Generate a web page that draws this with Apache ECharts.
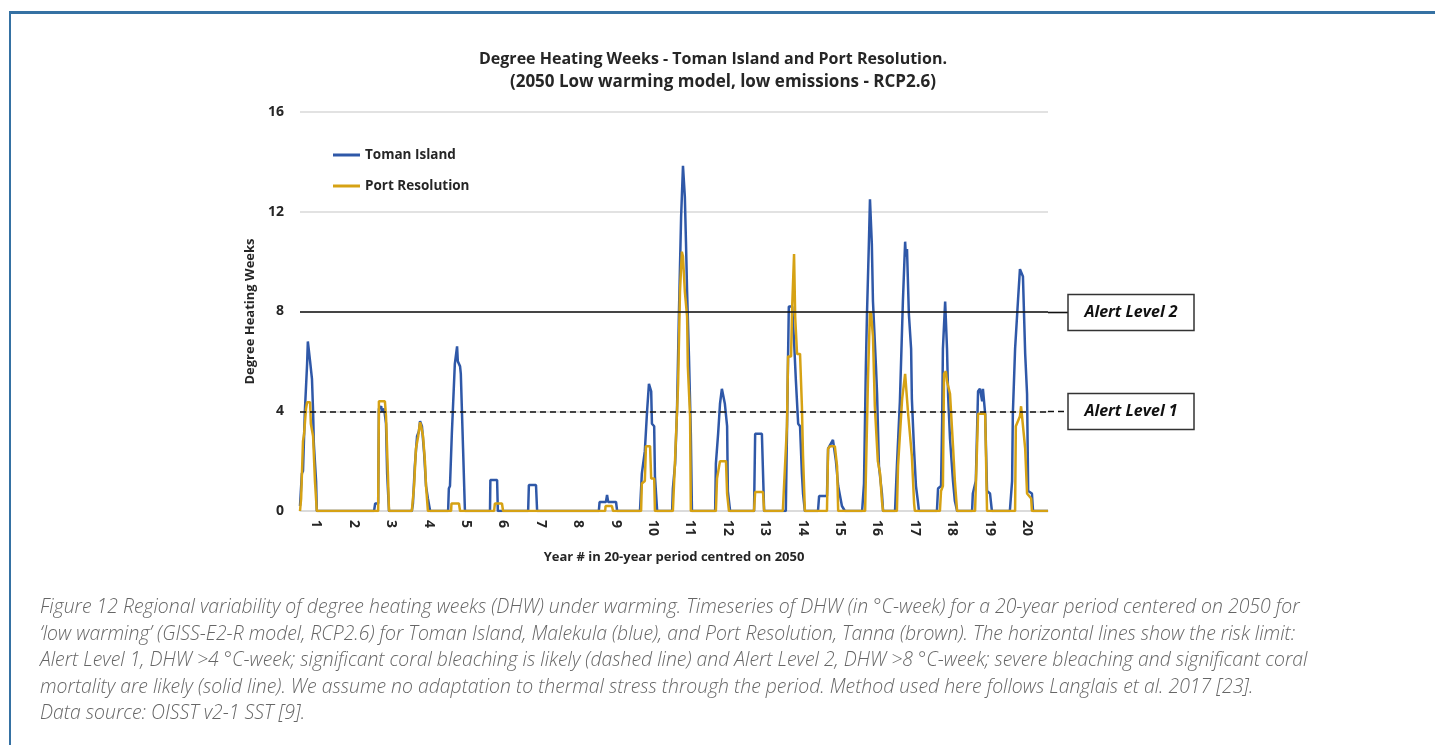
<!DOCTYPE html>
<html>
<head>
<meta charset="utf-8">
<script src="https://cdn.jsdelivr.net/npm/echarts@6/dist/echarts.min.js"></script>
<style>
  html, body { margin: 0; padding: 0; background: #fff; width: 1435px; height: 745px; overflow: hidden; }
  #frame { position: absolute; left: 9px; top: 11px; width: 1500px; height: 800px;
           border-top: 3px solid #3571a3; border-left: 2px solid #3571a3; }
  #chart { position: absolute; left: 0; top: 0; width: 1435px; height: 745px; }
  #caption { position: absolute; left: 40px; top: 593px; font-family: "Open Sans", sans-serif;
             font-style: italic; font-weight: 300; font-size: 19.4px; line-height: 26.5px;
             color: #666; white-space: nowrap; }
</style>
</head>
<body>
<div id="frame"></div>
<div id="chart"></div>
<div id="caption">
Figure 12 Regional variability of degree heating weeks (DHW) under warming. Timeseries of DHW (in °C-week) for a 20-year period centered on 2050 for<br>
‘low warming’ (GISS-E2-R model, RCP2.6) for Toman Island, Malekula (blue), and Port Resolution, Tanna (brown). The horizontal lines show the risk limit:<br>
Alert Level 1, DHW &gt;4 °C-week; significant coral bleaching is likely (dashed line) and Alert Level 2, DHW &gt;8 °C-week; severe bleaching and significant coral<br>
mortality are likely (solid line). We assume no adaptation to thermal stress through the period. Method used here follows Langlais et al. 2017 [23].<br>
Data source: OISST v2-1 SST [9].
</div>
<script>
// Year labels along the time axis and where each one sits (years from the start of the record)
const yearLabels = ['1','2','3','4','5','6','7','8','9','10','11','12','13','14','15','16','17','18','19','20'];
const yearLabelPos = [0.44,1.44,2.44,3.44,4.44,5.44,6.44,7.44,8.44,9.44,10.44,11.44,12.44,13.44,14.44,15.44,16.44,17.44,18.44,19.44];

// DHW axis ticks (°C-week)
const dhwTicks = [0, 4, 8, 12, 16];

// Bleaching alert thresholds
const alertLevels = [
  { name: 'Alert Level 2', value: 8, dashed: false },
  { name: 'Alert Level 1', value: 4, dashed: true }
];

// Toman Island (Malekula): [years from start, DHW]
const tomanIsland = [
  [0.00,0.2],[0.05,1.5],[0.08,1.6],[0.13,4.0],[0.19,5.9],[0.21,6.8],[0.27,6.0],[0.32,5.3],[0.35,4.0],[0.37,2.7],[0.43,1.2],[0.45,0],
  [1.98,0],[2.01,0.3],[2.09,0.3],[2.11,4.1],[2.17,4.2],[2.19,4.0],[2.25,4.1],[2.30,3.5],[2.33,1.5],[2.38,0],
  [2.99,0],[3.02,0.3],[3.07,1.8],[3.13,3.0],[3.18,3.2],[3.21,3.6],[3.26,3.4],[3.32,2.3],[3.37,1.0],[3.42,0.5],[3.48,0],
  [3.96,0],[3.98,0.9],[4.01,1.0],[4.06,3.1],[4.14,5.9],[4.20,6.6],[4.22,6.0],[4.28,5.8],[4.30,5.5],[4.36,2.5],[4.41,0],
  [5.08,0],[5.09,1.24],[5.27,1.24],[5.29,0],
  [6.10,0],[6.12,1.04],[6.31,1.04],[6.34,0],
  [7.99,0],[8.01,0.36],[8.18,0.36],[8.21,0.64],[8.24,0.36],[8.45,0.36],[8.48,0],
  [9.09,0],[9.14,1.5],[9.22,2.4],[9.28,4.0],[9.33,5.1],[9.39,4.8],[9.41,3.5],[9.47,3.4],[9.49,1.4],[9.55,0],
  [9.95,0],[9.97,0.9],[10.03,1.9],[10.08,4.0],[10.13,7.8],[10.19,11.8],[10.21,12.6],[10.24,13.84],[10.29,12.6],[10.32,10.8],[10.35,8.8],[10.40,6.2],[10.45,3.1],[10.48,0],
  [11.10,0],[11.12,1.9],[11.18,3.1],[11.23,4.3],[11.28,4.9],[11.36,4.3],[11.42,3.4],[11.44,0.8],[11.50,0],
  [12.14,0],[12.17,3.1],[12.35,3.1],[12.41,0],
  [12.99,0],[13.05,6.2],[13.07,8.2],[13.16,8.2],[13.21,6.8],[13.26,5.2],[13.32,3.5],[13.37,3.4],[13.42,1.5],[13.45,0.7],[13.50,0],
  [13.85,0],[13.88,0.6],[14.09,0.6],[14.12,2.5],[14.25,2.85],[14.33,2.0],[14.39,1.0],[14.49,0.2],[14.57,0],
  [15.03,0],[15.08,1.1],[15.13,5.8],[15.16,7.9],[15.21,10.7],[15.24,12.5],[15.29,10.7],[15.32,8.4],[15.37,8.4],[15.40,5.8],[15.43,4.7],[15.48,1.8],[15.56,0.7],[15.59,0],
  [15.91,0],[15.96,1.8],[16.04,4.4],[16.12,8.4],[16.18,10.8],[16.20,10.2],[16.23,10.5],[16.28,7.9],[16.34,6.5],[16.36,4.5],[16.42,2.4],[16.47,1.0],[16.52,0.4],[16.55,0],
  [17.03,0],[17.06,0.9],[17.14,1.0],[17.17,3.6],[17.19,6.5],[17.25,8.4],[17.30,6.5],[17.33,4.6],[17.38,2.9],[17.46,1.2],[17.51,0.4],[17.57,0],
  [17.97,0],[17.99,0.7],[18.07,1.2],[18.13,4.8],[18.18,4.9],[18.24,4.4],[18.26,4.9],[18.32,3.9],[18.37,0.8],[18.45,0.7],[18.50,0],
  [18.98,0],[19.04,1.2],[19.06,3.9],[19.12,6.5],[19.20,8.5],[19.25,9.7],[19.33,9.4],[19.39,6.3],[19.44,4.7],[19.47,0.8],[19.57,0.7],[19.60,0],
  [20.00,0]
];

// Port Resolution (Tanna): [years from start, DHW]
const portResolution = [
  [0.00,0],[0.03,0.5],[0.08,2.8],[0.11,3.1],[0.16,4.1],[0.19,4.36],[0.27,4.36],[0.29,3.5],[0.35,3.0],[0.40,1.2],[0.43,1.2],[0.45,0],
  [2.09,0],[2.11,4.4],[2.27,4.4],[2.30,3.8],[2.35,1.5],[2.38,0],
  [2.99,0],[3.05,1.0],[3.10,2.5],[3.16,3.0],[3.21,3.56],[3.24,3.4],[3.29,3.0],[3.34,2.0],[3.37,1.0],[3.42,0],
  [4.04,0],[4.05,0.3],[4.25,0.3],[4.28,0],
  [5.19,0],[5.21,0.3],[5.40,0.3],[5.43,0],
  [8.16,0],[8.17,0.2],[8.34,0.2],[8.37,0],
  [9.12,0],[9.14,1.1],[9.22,1.2],[9.25,2.6],[9.36,2.6],[9.39,1.3],[9.47,1.3],[9.49,0],
  [9.97,0],[10.03,2.1],[10.11,5.1],[10.16,8.8],[10.21,10.4],[10.24,10.2],[10.29,8.8],[10.35,7.8],[10.37,5.8],[10.43,3.8],[10.45,0],
  [11.12,0],[11.15,1.3],[11.23,2.0],[11.39,2.0],[11.42,0.7],[11.47,0],
  [12.14,0],[12.17,0.76],[12.38,0.76],[12.41,0],
  [12.91,0],[13.02,3.4],[13.05,6.2],[13.13,6.2],[13.16,8.2],[13.21,10.3],[13.24,7.8],[13.29,6.3],[13.37,6.3],[13.42,4.2],[13.45,2.2],[13.50,0],
  [14.09,0],[14.12,2.5],[14.17,2.6],[14.30,2.6],[14.36,1.8],[14.39,0],
  [15.11,0],[15.19,5.5],[15.24,8.0],[15.27,7.9],[15.32,7.0],[15.37,4.2],[15.45,2.0],[15.51,1.5],[15.56,0.4],[15.59,0],
  [15.96,0],[15.99,1.8],[16.10,4.5],[16.18,5.5],[16.20,5.56],[16.26,3.9],[16.36,2.2],[16.42,0.3],[16.44,0],
  [17.11,0],[17.14,0.8],[17.19,1.0],[17.22,5.5],[17.27,5.6],[17.30,5.2],[17.38,4.7],[17.46,2.6],[17.51,1.2],[17.57,0],
  [18.05,0],[18.13,3.9],[18.32,3.9],[18.37,0],
  [19.12,0],[19.14,3.4],[19.25,3.8],[19.28,4.2],[19.33,4.2],[19.39,2.5],[19.44,0.7],[19.55,0.5],[19.57,0],
  [20.00,0]
];

const FONT = '"Open Sans", sans-serif';
const INK = '#262626';
const BLUE = '#2f58a8';
const GOLD = '#d6a214';

const chart = echarts.init(document.getElementById('chart'), null, { renderer: 'canvas' });

function labelFor(v) {
  let best = 0;
  for (let i = 1; i < yearLabelPos.length; i++) {
    if (Math.abs(yearLabelPos[i] - v) < Math.abs(yearLabelPos[best] - v)) best = i;
  }
  return yearLabels[best];
}

chart.setOption({
  animation: false,
  backgroundColor: 'transparent',
  title: [
    { text: 'Degree Heating Weeks - Toman Island and Port Resolution.', left: 708, top: 46, textAlign: 'center',
      textStyle: { fontFamily: FONT, fontWeight: 'bold', fontSize: 16, color: INK } },
    { text: '(2050 Low warming model, low emissions - RCP2.6)', left: 718, top: 69, textAlign: 'center',
      textStyle: { fontFamily: FONT, fontWeight: 'bold', fontSize: 17, color: INK } }
  ],
  legend: {
    orient: 'vertical', left: 333, top: 146, itemGap: 13, padding: 0,
    itemWidth: 27, itemHeight: 3, icon: 'rect',
    textStyle: { fontFamily: FONT, fontWeight: 'bold', fontSize: 13.5, color: INK, lineHeight: 18 },
    data: ['Toman Island', 'Port Resolution']
  },
  grid: { left: 300, right: 387, top: 112, bottom: 234 },
  xAxis: {
    type: 'value', min: 0, max: 20,
    axisLine: { show: true, lineStyle: { color: '#d9d9d9', width: 1.5 } },
    axisTick: { show: false },
    splitLine: { show: false },
    axisLabel: {
      customValues: yearLabelPos, rotate: -90, margin: 9,
      formatter: labelFor,
      fontFamily: FONT, fontWeight: 'bold', fontSize: 14, color: INK
    },
    name: 'Year # in 20-year period centred on 2050', nameLocation: 'middle', nameGap: 40,
    nameTextStyle: { fontFamily: FONT, fontWeight: 'bold', fontSize: 13, color: INK }
  },
  yAxis: {
    type: 'value', min: dhwTicks[0], max: dhwTicks[dhwTicks.length - 1], interval: dhwTicks[1] - dhwTicks[0],
    axisLine: { show: false }, axisTick: { show: false },
    splitLine: { lineStyle: { color: '#d9d9d9', width: 1.5 } },
    axisLabel: { margin: 16, fontFamily: FONT, fontWeight: 'bold', fontSize: 14, color: INK },
    name: 'Degree Heating Weeks', nameLocation: 'middle', nameRotate: 90, nameGap: 34,
    nameTextStyle: { fontFamily: FONT, fontWeight: 'bold', fontSize: 13, color: INK }
  },
  series: [
    {
      name: 'Toman Island', type: 'line', data: tomanIsland, showSymbol: false, symbol: 'none',
      lineStyle: { color: BLUE, width: 2.5 }, itemStyle: { color: BLUE }, z: 3,
      markLine: {
        silent: true, symbol: ['none', 'none'], label: { show: false },
        data: alertLevels.map(a => ({
          yAxis: a.value,
          lineStyle: { color: '#111', width: 1.6, type: a.dashed ? [6, 4] : 'solid' }
        }))
      }
    },
    {
      name: 'Port Resolution', type: 'line', data: portResolution, showSymbol: false, symbol: 'none',
      lineStyle: { color: GOLD, width: 2.5 }, itemStyle: { color: GOLD }, z: 4
    }
  ]
});

// Alert-level labels boxed to the right of the plot, joined to their threshold lines
const xRight = chart.convertToPixel({ xAxisIndex: 0 }, 20);
const boxLeft = 1068, boxW = 126, boxH = 36;
const graphics = [];
alertLevels.forEach(a => {
  const y = Math.round(chart.convertToPixel({ yAxisIndex: 0 }, a.value)) + 0.5;
  graphics.push({
    type: 'line', shape: { x1: xRight, y1: y, x2: boxLeft, y2: y },
    style: { stroke: '#111', lineWidth: 1.6, lineDash: a.dashed ? [6, 4] : null }
  });
  graphics.push({
    type: 'rect', shape: { x: boxLeft, y: y - boxH / 2, width: boxW, height: boxH },
    style: { fill: '#fff', stroke: '#333', lineWidth: 1.5 }
  });
  graphics.push({
    type: 'text', x: boxLeft + boxW / 2, y: y,
    style: { text: a.name, fontFamily: FONT, fontStyle: 'italic', fontWeight: 'bold', fontSize: 16,
             fill: '#111', align: 'center', verticalAlign: 'middle' }
  });
});
chart.setOption({ graphic: graphics });
</script>
</body>
</html>
